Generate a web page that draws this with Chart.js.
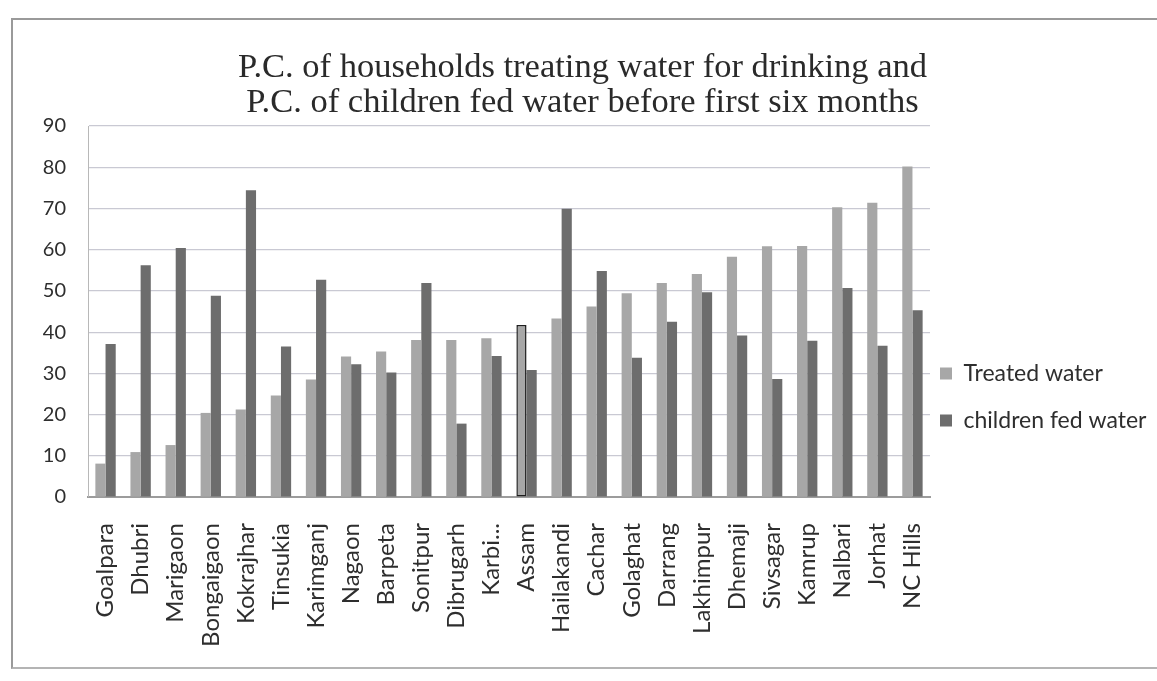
<!DOCTYPE html>
<html>
<head>
<meta charset="utf-8">
<script src="https://cdn.jsdelivr.net/npm/chart.js@4.4.1/dist/chart.umd.min.js"></script>
<style>
  html, body { margin: 0; padding: 0; background: #ffffff; }
  #wrap { position: relative; width: 1157px; height: 681px; }
  #frame {
    position: absolute; left: 11px; top: 18px; width: 1146px; height: 651px;
    border-top: 2px solid #9a9a9a; border-left: 2px solid #9a9a9a; border-bottom: 2px solid #b4b4b4;
    box-sizing: border-box; pointer-events: none;
  }
  canvas { position: absolute; left: 0; top: 0; }
</style>
</head>
<body>
<div id="wrap">
  <canvas id="chart" width="1157" height="681"></canvas>
  <div id="frame"></div>
</div>
<script>
// Districts of Assam, in the order plotted
const districts = [
  'Goalpara', 'Dhubri', 'Marigaon', 'Bongaigaon', 'Kokrajhar', 'Tinsukia',
  'Karimganj', 'Nagaon', 'Barpeta', 'Sonitpur', 'Dibrugarh', 'Karbi...',
  'Assam', 'Hailakandi', 'Cachar', 'Golaghat', 'Darrang', 'Lakhimpur',
  'Dhemaji', 'Sivsagar', 'Kamrup', 'Nalbari', 'Jorhat', 'NC Hills'
];

// Per cent of households treating water for drinking
const treatedWater = [
  8.1, 10.9, 12.6, 20.4, 21.2, 24.6,
  28.5, 34.1, 35.3, 38.1, 38.1, 38.5,
  41.7, 43.3, 46.2, 49.4, 51.9, 54.1,
  58.3, 60.8, 60.9, 70.3, 71.4, 80.2
];

// Per cent of children fed water before the first six months
const childrenFedWater = [
  37.1, 56.2, 60.4, 48.8, 74.4, 36.5,
  52.7, 32.2, 30.2, 51.9, 17.8, 34.2,
  30.8, 69.9, 54.8, 33.8, 42.5, 49.7,
  39.2, 28.6, 37.9, 50.7, 36.7, 45.3
];

const seriesNames = ['Treated water', 'children fed water'];
const titleLines = [
  'P.C. of households treating water for drinking and',
  'P.C. of children fed water before first six months'
];
const yTicks = { min: 0, max: 90, step: 10 };

// The state total is outlined
const outlineWidths = districts.map(d => d === 'Assam' ? 1.5 : 0);

// Fixes the legend column width and moves the legend block
// into the lower half of the right margin
const legendPlacement = {
  id: 'legendPlacement',
  beforeLayout(chart, args, opts) {
    const lg = chart.legend;
    if (lg && !lg._fixedWidth) {
      const fit = lg.fit;
      lg.fit = function () { fit.call(this); this.width = opts.width; };
      lg._fixedWidth = true;
    }
  },
  afterLayout(chart, args, opts) {
    const lg = chart.legend;
    if (!lg) return;
    lg.left += opts.x;
    lg.right = chart.width;
    lg.width = lg.right - lg.left;
    lg.top += opts.y; lg.bottom += opts.y;
  }
};

new Chart(document.getElementById('chart'), {
  type: 'bar',
  data: {
    labels: districts,
    datasets: [
      {
        label: seriesNames[0],
        data: treatedWater,
        backgroundColor: '#a7a7a7',
        borderColor: '#1e1e1e',
        borderWidth: outlineWidths,
        borderSkipped: false
      },
      {
        label: seriesNames[1],
        data: childrenFedWater,
        backgroundColor: '#6d6d6d',
        borderWidth: 0
      }
    ]
  },
  plugins: [legendPlacement],
  options: {
    responsive: false,
    animation: false,
    devicePixelRatio: 1,
    layout: { padding: { top: 20, left: 12, right: 4, bottom: 12 } },
    datasets: {
      bar: { categoryPercentage: 0.58, barPercentage: 1.0 }
    },
    plugins: {
      title: {
        display: true,
        text: titleLines,
        color: '#2a2a2a',
        font: { family: '"Liberation Serif", "DejaVu Serif", serif', size: 34.5, weight: 'normal', lineHeight: 1.0 },
        padding: { top: 31, bottom: 6 }
      },
      legend: {
        position: 'right',
        align: 'start',
        labels: {
          color: '#2e2e2e',
          font: { family: 'Lato, "Open Sans", sans-serif', size: 23 },
          boxWidth: 12,
          boxHeight: 12,
          padding: 24
        }
      },
      legendPlacement: { width: 223, x: -14, y: 318 },
      tooltip: { enabled: false }
    },
    scales: {
      x: {
        grid: { display: false, drawTicks: false },
        border: { display: true, color: '#9c9c9c', width: 2 },
        ticks: {
          color: '#2e2e2e',
          font: { family: 'Lato, "Open Sans", sans-serif', size: 24 },
          minRotation: 90,
          maxRotation: 90,
          autoSkip: false,
          padding: 26
        },
        afterFit(scale) { scale.height = 172; }
      },
      y: {
        min: yTicks.min,
        max: yTicks.max,
        grid: { color: '#c9c9d3', lineWidth: 1.2, drawTicks: false },
        border: { display: true, color: '#b8b8b8', width: 1 },
        ticks: {
          stepSize: yTicks.step,
          color: '#2e2e2e',
          font: { family: 'Lato, "Open Sans", sans-serif', size: 20 },
          padding: 22
        },
        afterFit(scale) { scale.width = 76; }
      }
    }
  }
});
</script>
</body>
</html>
